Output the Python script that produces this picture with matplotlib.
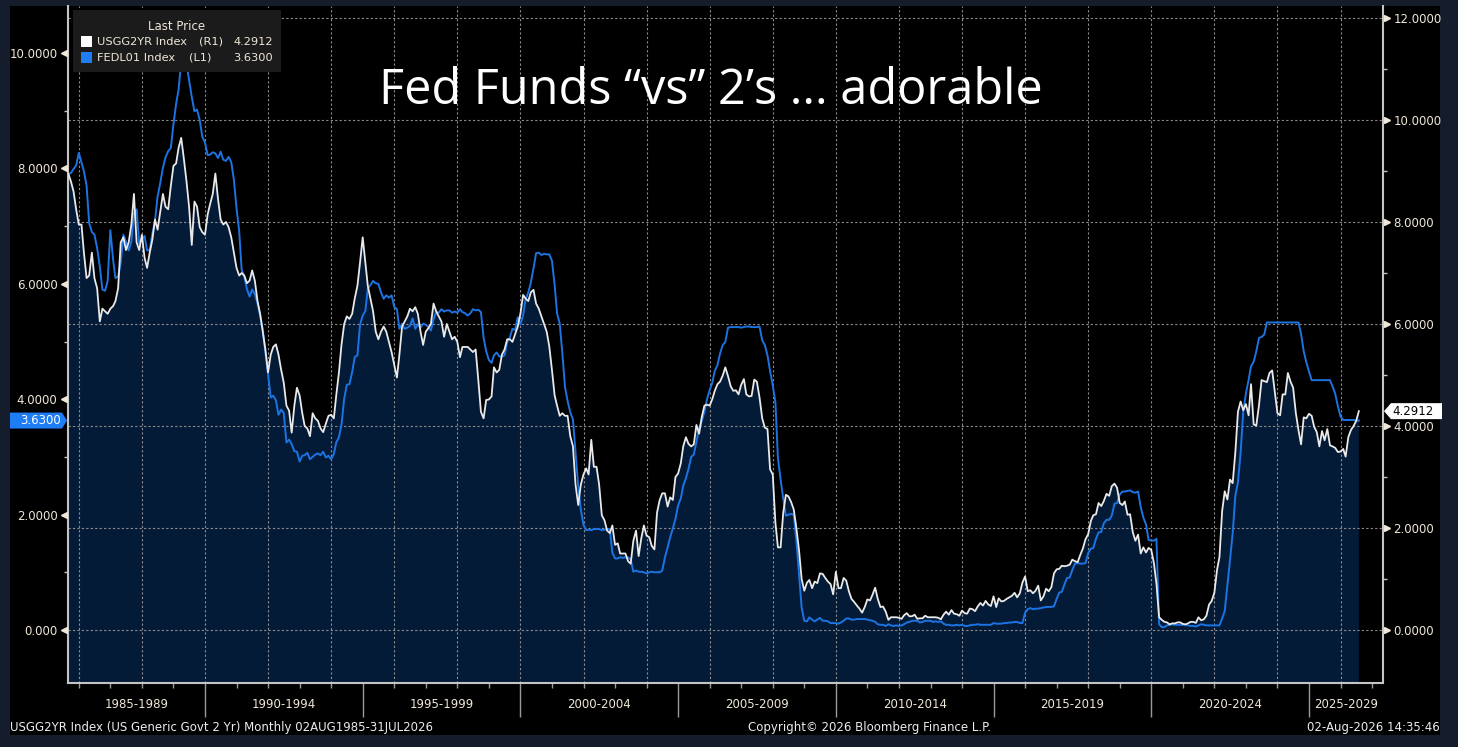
import numpy as np
import pandas as pd
import matplotlib
matplotlib.use("Agg")
import matplotlib.pyplot as plt
from matplotlib.patches import Rectangle, Polygon
from matplotlib.ticker import FixedLocator
import matplotlib.transforms as mtransforms

# ---------------- data (monthly, Aug 1985 .. Jul 2026) ----------------
usgg2yr_1985_1989 = [
    8.95, 8.80, 8.60, 8.25, 7.95,
    7.95, 7.40, 6.90, 6.95, 7.40, 6.90, 6.70, 6.05, 6.30, 6.25, 6.20, 6.30,
    6.35, 6.45, 6.70, 7.60, 7.70, 7.45, 7.60, 7.95, 8.55, 7.60, 7.45, 7.75,
    7.30, 7.10, 7.40, 7.65, 8.05, 7.85, 8.20, 8.55, 8.30, 8.25, 8.70, 9.10,
    9.15, 9.45, 9.65, 9.25, 8.80, 8.30, 7.55, 8.40, 8.30, 7.90, 7.80, 7.75,
]
usgg2yr_1990s = [
    8.15, 8.35, 8.55, 8.95, 8.45, 8.05, 7.95, 8.00, 7.90, 7.70, 7.40, 7.10,
    6.95, 7.00, 6.95, 6.80, 6.85, 7.05, 6.85, 6.45, 6.20, 5.85, 5.50, 5.05,
    5.40, 5.55, 5.60, 5.40, 5.10, 4.85, 4.40, 4.30, 3.87, 4.40, 4.75, 4.60,
    4.25, 4.00, 3.95, 3.80, 4.25, 4.15, 4.10, 3.95, 3.88, 4.05, 4.20, 4.22,
    4.15, 4.60, 5.05, 5.60, 6.00, 6.15, 6.10, 6.20, 6.50, 6.75, 7.20, 7.70,
    7.20, 6.75, 6.50, 6.25, 5.85, 5.70, 5.85, 5.95, 5.85, 5.65, 5.45, 5.20,
    4.95, 5.40, 5.95, 6.05, 6.15, 6.30, 6.25, 6.33, 6.20, 5.85, 5.59, 5.85,
    5.92, 6.00, 6.40, 6.25, 6.15, 6.05, 5.75, 6.00, 5.85, 5.70, 5.75, 5.65,
    5.35, 5.55, 5.55, 5.55, 5.50, 5.45, 5.50, 4.90, 4.28, 4.15, 4.51, 4.52,
    4.58, 5.15, 5.05, 5.10, 5.40, 5.50, 5.70, 5.70, 5.65, 5.80, 5.95, 6.20,
]
usgg2yr_2000s = [
    6.57, 6.50, 6.45, 6.62, 6.67, 6.40, 6.30, 6.15, 6.00, 5.85, 5.56, 5.10,
    4.60, 4.40, 4.20, 4.25, 4.20, 4.20, 3.80, 3.60, 2.85, 2.45, 2.85, 3.05,
    3.17, 3.05, 3.73, 3.20, 3.20, 2.85, 2.25, 2.15, 1.95, 1.90, 2.05, 1.67,
    1.70, 1.50, 1.50, 1.50, 1.35, 1.30, 1.75, 1.95, 1.45, 1.80, 2.05, 1.85,
    1.82, 1.65, 1.58, 2.30, 2.55, 2.68, 2.68, 2.42, 2.60, 2.55, 3.00, 3.07,
    3.27, 3.60, 3.78, 3.65, 3.60, 3.64, 4.02, 3.85, 4.17, 4.40, 4.42, 4.40,
    4.53, 4.69, 4.82, 4.87, 4.99, 5.15, 4.98, 4.78, 4.69, 4.70, 4.62, 4.81,
    4.92, 4.62, 4.58, 4.59, 4.91, 4.87, 4.56, 4.15, 3.97, 3.94, 3.15, 3.05,
    2.10, 1.62, 1.62, 2.29, 2.65, 2.62, 2.51, 2.36, 2.00, 1.56, 1.00, 0.77,
    0.93, 0.98, 0.82, 0.95, 0.92, 1.11, 1.10, 1.02, 0.95, 0.90, 0.70, 1.14,
]
usgg2yr_2010s = [
    0.82, 0.82, 1.02, 0.97, 0.76, 0.61, 0.55, 0.48, 0.42, 0.34, 0.45, 0.60,
    0.58, 0.69, 0.83, 0.61, 0.45, 0.46, 0.36, 0.20, 0.25, 0.25, 0.25, 0.24,
    0.22, 0.29, 0.33, 0.27, 0.27, 0.30, 0.22, 0.23, 0.23, 0.28, 0.25, 0.25,
    0.25, 0.25, 0.24, 0.21, 0.30, 0.36, 0.30, 0.39, 0.32, 0.31, 0.28, 0.38,
    0.33, 0.32, 0.42, 0.41, 0.37, 0.46, 0.53, 0.48, 0.57, 0.50, 0.47, 0.66,
    0.45, 0.62, 0.56, 0.57, 0.61, 0.64, 0.67, 0.73, 0.64, 0.72, 0.93, 1.05,
    0.76, 0.78, 0.72, 0.77, 0.87, 0.58, 0.66, 0.81, 0.76, 0.84, 1.11, 1.19,
    1.20, 1.26, 1.25, 1.26, 1.28, 1.38, 1.35, 1.33, 1.47, 1.60, 1.78, 1.88,
    2.14, 2.25, 2.27, 2.49, 2.43, 2.53, 2.67, 2.63, 2.82, 2.87, 2.79, 2.49,
    2.45, 2.52, 2.26, 2.27, 1.92, 1.75, 1.87, 1.50, 1.62, 1.52, 1.61, 1.57,
]
usgg2yr_2020s = [
    1.31, 0.91, 0.25, 0.20, 0.16, 0.15, 0.11, 0.13, 0.13, 0.15, 0.15, 0.12,
    0.11, 0.13, 0.16, 0.16, 0.14, 0.25, 0.19, 0.21, 0.28, 0.50, 0.57, 0.73,
    1.18, 1.43, 2.33, 2.72, 2.56, 2.95, 2.88, 3.49, 4.28, 4.48, 4.31, 4.43,
    4.21, 4.82, 4.03, 4.01, 4.40, 4.90, 4.88, 4.86, 5.04, 5.09, 4.68, 4.25,
    4.21, 4.62, 4.62, 5.04, 4.87, 4.75, 4.26, 3.92, 3.64, 4.17, 4.15, 4.24,
    4.20, 3.99, 3.88, 3.60, 3.90, 3.72, 3.94, 3.62, 3.60, 3.57, 3.49, 3.50,
    3.55, 3.40, 3.78, 3.92, 4.00, 4.10, 4.2912,
]

fedl01_1985_1989 = [
    7.90, 7.92, 7.99, 8.05, 8.27,
    8.10, 7.95, 7.70, 7.05, 6.90, 6.85, 6.62, 6.30, 5.90, 5.88, 6.05, 6.93,
    6.43, 6.10, 6.13, 6.37, 6.85, 6.73, 6.58, 6.73, 7.22, 7.29, 6.69, 6.77,
    6.83, 6.58, 6.58, 6.87, 7.09, 7.51, 7.75, 8.01, 8.19, 8.30, 8.35, 8.76,
    9.12, 9.36, 9.85, 9.84, 9.81, 9.53, 9.24, 8.99, 9.02, 8.84, 8.55, 8.45,
]
fedl01_1990s = [
    8.23, 8.24, 8.28, 8.26, 8.18, 8.29, 8.15, 8.13, 8.20, 8.11, 7.81, 7.31,
    6.91, 6.25, 6.12, 5.91, 5.78, 5.90, 5.82, 5.66, 5.45, 5.21, 4.81, 4.43,
    4.03, 4.06, 3.98, 3.73, 3.82, 3.76, 3.25, 3.30, 3.22, 3.10, 3.09, 2.92,
    3.02, 3.03, 3.07, 2.96, 3.00, 3.04, 3.06, 3.03, 3.09, 2.99, 3.02, 2.96,
    3.05, 3.25, 3.34, 3.56, 4.01, 4.25, 4.26, 4.47, 4.73, 4.76, 5.29, 5.45,
    5.53, 5.92, 5.98, 6.05, 6.01, 6.00, 5.85, 5.74, 5.80, 5.76, 5.80, 5.60,
    5.56, 5.22, 5.31, 5.22, 5.24, 5.27, 5.40, 5.22, 5.30, 5.24, 5.31, 5.29,
    5.25, 5.19, 5.39, 5.51, 5.50, 5.56, 5.52, 5.54, 5.54, 5.50, 5.52, 5.50,
    5.56, 5.51, 5.49, 5.45, 5.49, 5.56, 5.54, 5.55, 5.51, 5.07, 4.83, 4.68,
    4.63, 4.76, 4.81, 4.74, 4.74, 4.76, 4.99, 5.07, 5.22, 5.20, 5.42, 5.30,
]
fedl01_2000s = [
    5.45, 5.73, 5.85, 6.02, 6.27, 6.53, 6.54, 6.50, 6.52, 6.51, 6.51, 6.40,
    5.98, 5.49, 5.31, 4.80, 4.21, 3.97, 3.77, 3.65, 3.07, 2.49, 2.09, 1.82,
    1.73, 1.74, 1.73, 1.75, 1.75, 1.75, 1.73, 1.74, 1.75, 1.75, 1.34, 1.24,
    1.24, 1.26, 1.25, 1.26, 1.26, 1.22, 1.01, 1.03, 1.01, 1.01, 1.00, 0.98,
    1.00, 1.01, 1.00, 1.00, 1.00, 1.03, 1.26, 1.43, 1.61, 1.76, 1.93, 2.16,
    2.28, 2.50, 2.63, 2.79, 3.00, 3.04, 3.26, 3.50, 3.62, 3.78, 4.00, 4.16,
    4.29, 4.49, 4.59, 4.79, 4.94, 4.99, 5.24, 5.25, 5.25, 5.25, 5.25, 5.24,
    5.25, 5.26, 5.26, 5.25, 5.25, 5.25, 5.26, 5.02, 4.94, 4.76, 4.49, 4.24,
    3.94, 2.98, 2.61, 2.28, 1.98, 2.00, 2.01, 2.00, 1.55, 0.97, 0.39, 0.16,
    0.15, 0.22, 0.18, 0.15, 0.18, 0.21, 0.16, 0.16, 0.15, 0.12, 0.12, 0.12,
]
fedl01_2010s = [
    0.11, 0.13, 0.16, 0.20, 0.20, 0.18, 0.18, 0.19, 0.19, 0.19, 0.19, 0.18,
    0.17, 0.16, 0.14, 0.10, 0.09, 0.09, 0.07, 0.10, 0.08, 0.07, 0.08, 0.07,
    0.08, 0.10, 0.13, 0.14, 0.16, 0.16, 0.16, 0.13, 0.14, 0.16, 0.16, 0.16,
    0.14, 0.15, 0.14, 0.15, 0.11, 0.09, 0.09, 0.08, 0.08, 0.09, 0.08, 0.09,
    0.07, 0.07, 0.08, 0.09, 0.09, 0.10, 0.09, 0.09, 0.09, 0.09, 0.09, 0.12,
    0.11, 0.11, 0.11, 0.12, 0.12, 0.13, 0.13, 0.14, 0.14, 0.12, 0.12, 0.30,
    0.36, 0.38, 0.36, 0.37, 0.37, 0.38, 0.39, 0.40, 0.40, 0.40, 0.41, 0.54,
    0.65, 0.66, 0.79, 0.90, 0.91, 1.04, 1.15, 1.16, 1.15, 1.15, 1.16, 1.33,
    1.41, 1.42, 1.58, 1.69, 1.70, 1.85, 1.91, 1.91, 1.98, 2.19, 2.20, 2.35,
    2.40, 2.40, 2.41, 2.42, 2.39, 2.38, 2.40, 2.13, 1.95, 1.83, 1.56, 1.55,
]
fedl01_2020s = [
    1.55, 1.58, 0.10, 0.05, 0.05, 0.08, 0.09, 0.10, 0.09, 0.09, 0.09, 0.09,
    0.09, 0.08, 0.07, 0.07, 0.06, 0.08, 0.10, 0.09, 0.08, 0.08, 0.08, 0.08,
    0.08, 0.08, 0.20, 0.33, 0.77, 1.21, 1.68, 2.33, 2.56, 3.08, 3.78, 4.10,
    4.33, 4.57, 4.65, 4.83, 5.06, 5.08, 5.12, 5.33, 5.33, 5.33, 5.33, 5.33,
    5.33, 5.33, 5.33, 5.33, 5.33, 5.33, 5.33, 5.33, 5.13, 4.83, 4.64, 4.48,
    4.33, 4.33, 4.33, 4.33, 4.33, 4.33, 4.33, 4.33, 4.22, 4.09, 3.88, 3.70,
    3.64, 3.64, 3.64, 3.64, 3.64, 3.63, 3.63,
]

right_ticks = [0, 2, 4, 6, 8, 10, 12]
left_ticks = [0, 2, 4, 6, 8, 10]
left_tick_labels = ["0.000", "2.0000", "4.0000", "6.0000", "8.0000", "10.0000"]
period_starts = [1985, 1990, 1995, 2000, 2005, 2010, 2015, 2020, 2025]

usgg2yr = np.array(usgg2yr_1985_1989 + usgg2yr_1990s + usgg2yr_2000s
                   + usgg2yr_2010s + usgg2yr_2020s)
fedl01 = np.array(fedl01_1985_1989 + fedl01_1990s + fedl01_2000s
                  + fedl01_2010s + fedl01_2020s)
dates = pd.date_range("1985-08-31", periods=len(usgg2yr), freq="ME")
t = dates.year + (dates.dayofyear - 0.5) / np.where(dates.is_leap_year, 366, 365)

# ---------------- style ----------------
W, H, DPI = 1458, 747, 100
BORDER = "#151c2b"
FILL = "#041b38"
BLUE = "#1c73e2"
WHITE = "#e9e9e9"
GRID = "#8c8c8c"
SPINE = "#c4c4c4"
TXT = "#efe7d8"

fig = plt.figure(figsize=(W / DPI, H / DPI), dpi=DPI, facecolor=BORDER)


def fx(px):
    return px / W


def fy(py):
    return 1 - py / H


fig.add_artist(Rectangle((fx(10), fy(735)), fx(1440) - fx(10), fy(6) - fy(735),
                         transform=fig.transFigure, facecolor="black",
                         edgecolor="none", zorder=-5))

L, R, T, B = 68, 1383, 6, 683
axR = fig.add_axes([fx(L), fy(B), (R - L) / W, (B - T) / H])
axR.set_facecolor("black")
axL = axR.twinx()
axW = axR.twinx()
axR.yaxis.tick_right()
axL.yaxis.tick_left()

axR.set_xlim(1985.656, 2027.345)
axR.set_ylim(-1.039, 12.235)
axW.set_ylim(-1.039, 12.235)
axL.set_ylim(-0.9185, 10.815)

# fill + grid on base axes
axR.fill_between(t, usgg2yr, -5, color=FILL, linewidth=0, zorder=1)
axR.set_axisbelow("line")
axR.yaxis.set_major_locator(FixedLocator(right_ticks))
axR.yaxis.grid(True, color=GRID, linewidth=0.8, linestyle=(0, (2, 2)))
for yr in range(1986, 2028, 2):
    axR.axvline(yr, color=GRID, linewidth=0.8, linestyle=(0, (2, 2)), zorder=1.5)

# series
axL.plot(t, fedl01, color=BLUE, linewidth=1.4)
axW.plot(t, usgg2yr, color=WHITE, linewidth=1.3)
axW.axis("off")

for ax in (axL, axW):
    for s in ax.spines.values():
        s.set_visible(False)
axR.spines["top"].set_visible(False)
for k in ("left", "right", "bottom"):
    axR.spines[k].set_color(SPINE)
    axR.spines[k].set_linewidth(1.5)

# right axis ticks
axR.set_yticks(right_ticks)
axR.set_yticklabels([f"{v:.4f}" for v in right_ticks])
axR.yaxis.set_minor_locator(FixedLocator([1, 3, 5, 7, 9, 11]))
axR.tick_params(axis="y", which="major", length=0, pad=7.5, labelsize=8.5,
                labelcolor=TXT)
axR.tick_params(axis="y", which="minor", length=3, width=1, color=SPINE)

# left axis ticks
axL.set_yticks(left_ticks)
axL.set_yticklabels(left_tick_labels)
axL.yaxis.set_minor_locator(FixedLocator([1, 3, 5, 7, 9]))
axL.tick_params(axis="y", which="major", length=0, pad=7.5, labelsize=8.5,
                labelcolor=TXT)
axL.tick_params(axis="y", which="minor", length=3, width=1, color=SPINE)

# triangle tick markers
tr_r = mtransforms.blended_transform_factory(axR.transAxes, axR.transData) + \
    mtransforms.ScaledTranslation(4 / DPI, 0, fig.dpi_scale_trans)
axR.plot([1] * len(right_ticks), right_ticks, ls="none", marker=">", ms=5,
         color=TXT, transform=tr_r, clip_on=False, zorder=5)
tr_l = mtransforms.blended_transform_factory(axL.transAxes, axL.transData) + \
    mtransforms.ScaledTranslation(-4 / DPI, 0, fig.dpi_scale_trans)
axL.plot([0] * len(left_ticks), left_ticks, ls="none", marker="<", ms=5,
         color=TXT, transform=tr_l, clip_on=False, zorder=5)

# x axis ticks
axR.xaxis.set_major_locator(FixedLocator(list(range(1990, 2030, 5))))
axR.xaxis.set_minor_locator(FixedLocator(list(range(1986, 2028))))
axR.tick_params(axis="x", which="major", length=24.5, width=1, color="#9a9a9a",
                labelbottom=False)
axR.tick_params(axis="x", which="minor", length=3.5, width=1, color="#9a9a9a")

x0, x1 = axR.get_xlim()
xtr = mtransforms.blended_transform_factory(axR.transData, axR.transAxes)
for s in period_starts:
    lo, hi = max(s, x0), min(s + 5, x1)
    axR.text((lo + hi) / 2, -22 / (B - T), f"{s}-{s + 4}", transform=xtr,
             ha="center", va="center", fontsize=8.5, color=TXT, clip_on=False)

# legend box
fig.add_artist(Rectangle((fx(73), fy(72)), fx(281) - fx(73), fy(10) - fy(72),
                         transform=fig.transFigure, facecolor="#1b1b1b",
                         edgecolor="none", zorder=10))
fig.text(fx(177), fy(26), "Last Price", ha="center", va="center", fontsize=8.5,
         color=TXT, zorder=11)
fig.add_artist(Rectangle((fx(81), fy(47)), fx(11), fy(0) - fy(11),
                         transform=fig.transFigure, facecolor="white",
                         edgecolor="none", zorder=11))
fig.add_artist(Rectangle((fx(81), fy(63)), fx(11), fy(0) - fy(11),
                         transform=fig.transFigure, facecolor="#1e7cf5",
                         edgecolor="none", zorder=11))
fig.text(fx(97), fy(42), "USGG2YR Index", ha="left", va="center", fontsize=8.2,
         color=TXT, zorder=11)
fig.text(fx(199), fy(42), "(R1)", ha="left", va="center", fontsize=8.2,
         color=TXT, zorder=11)
fig.text(fx(273), fy(42), f"{usgg2yr[-1]:.4f}", ha="right", va="center",
         fontsize=8.2, color=TXT, zorder=11)
fig.text(fx(97), fy(58), "FEDL01 Index", ha="left", va="center", fontsize=8.2,
         color=TXT, zorder=11)
fig.text(fx(189), fy(58), "(L1)", ha="left", va="center", fontsize=8.2,
         color=TXT, zorder=11)
fig.text(fx(273), fy(58), f"{fedl01[-1]:.4f}", ha="right", va="center",
         fontsize=8.2, color=TXT, zorder=11)

# title
fig.text(fx(711), fy(104), "Fed Funds \u201cvs\u201d 2\u2019s ... adorable",
         ha="center", va="baseline", fontsize=35, color="white",
         family=["Open Sans", "DejaVu Sans"], zorder=11)

# last-value tags
yv = H - axR.transData.transform((0, usgg2yr[-1]))[1]
pts = [(1384, yv), (1391, yv - 8), (1442, yv - 8), (1442, yv + 8), (1391, yv + 8)]
fig.add_artist(Polygon([(fx(a), fy(b)) for a, b in pts], closed=True,
                       transform=fig.transFigure, facecolor="white",
                       edgecolor="none", zorder=12))
fig.text(fx(1392), fy(yv), f"{usgg2yr[-1]:.4f}", ha="left", va="center",
         fontsize=8.5, color="black", zorder=13)

yb = H - axL.transData.transform((0, fedl01[-1]))[1]
pts = [(10, yb - 8), (62, yb - 8), (67, yb), (62, yb + 8), (10, yb + 8)]
fig.add_artist(Polygon([(fx(a), fy(b)) for a, b in pts], closed=True,
                       transform=fig.transFigure, facecolor="#1e7cf5",
                       edgecolor="none", zorder=12))
fig.text(fx(41), fy(yb), f"{fedl01[-1]:.4f}", ha="center", va="center",
         fontsize=8.5, color="white", zorder=13)

# footer
fig.text(fx(10), fy(727), "USGG2YR Index (US Generic Govt 2 Yr) Monthly 02AUG1985-31JUL2026",
         ha="left", va="center", fontsize=8.5, color="#ececec")
fig.text(fx(870), fy(727), "Copyright\u00a9 2026 Bloomberg Finance L.P.",
         ha="center", va="center", fontsize=8.5, color="#ececec")
fig.text(fx(1440), fy(727), "02-Aug-2026 14:35:46", ha="right", va="center",
         fontsize=8.5, color="#ececec")

fig.savefig("out.png", dpi=DPI, facecolor=BORDER)
